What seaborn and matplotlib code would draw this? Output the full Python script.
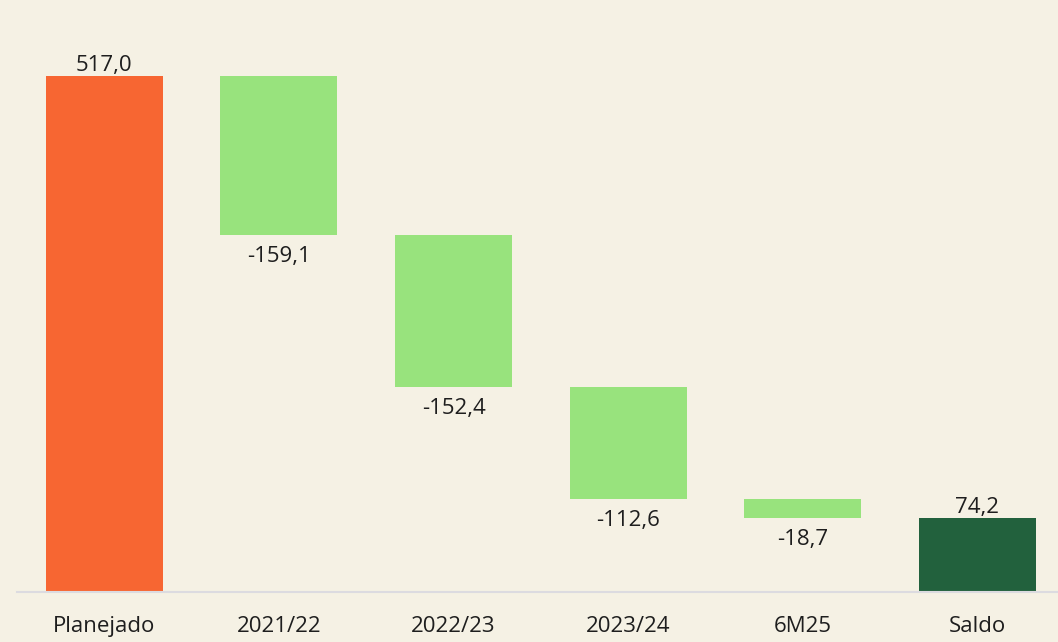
import matplotlib
matplotlib.use("Agg")
import matplotlib.pyplot as plt
import seaborn as sns
import pandas as pd

# Waterfall: planned amount, yearly consumption, remaining balance
categories = ["Planejado", "2021/22", "2022/23", "2023/24", "6M25", "Saldo"]
values = [517.0, -159.1, -152.4, -112.6, -18.7, 74.2]
kinds = ["total", "delta", "delta", "delta", "delta", "total"]

colors = {"Planejado": "#F76632", "Saldo": "#22613D"}
delta_color = "#98E37D"
bg = "#F5F1E4"
text_color = "#1E1E1E"

# bar bottoms and tops
bottoms, tops = [], []
running = 0.0
for v, k in zip(values, kinds):
    if k == "total":
        bottoms.append(0.0)
        tops.append(v)
        running = v
    else:
        new = running + v
        bottoms.append(min(running, new))
        tops.append(max(running, new))
        running = new

df = pd.DataFrame({
    "categoria": categories,
    "altura": [t - b for t, b in zip(tops, bottoms)],
})
palette = [colors.get(c, delta_color) for c in categories]

sns.set_theme(style="white")
plt.rcParams["font.family"] = ["Open Sans", "DejaVu Sans"]

fig = plt.figure(figsize=(10.58, 6.42), dpi=100, facecolor=bg)
ax = fig.add_axes([17 / 1058, 50 / 642, 1 - 17 / 1058, 592 / 642])
ax.set_facecolor(bg)

sns.barplot(data=df, x="categoria", y="altura", hue="categoria",
            palette=palette, legend=False, width=0.67, ax=ax,
            saturation=1, linewidth=0)

for patch, b in zip(ax.patches, bottoms):
    patch.set_y(b)

fs = 16
for i, (v, b, t) in enumerate(zip(values, bottoms, tops)):
    label = f"{v:.1f}".replace(".", ",")
    if v >= 0:
        ax.annotate(label, (i, t), xytext=(0, 0), textcoords="offset points",
                    ha="center", va="bottom", fontsize=fs, color=text_color)
    else:
        ax.annotate(label, (i, b), xytext=(0, -8), textcoords="offset points",
                    ha="center", va="top", fontsize=fs, color=text_color)

ax.set_xlim(-0.5, 5.461)
ax.set_ylim(0, 593)
ax.set_xlabel("")
ax.set_ylabel("")
ax.set_yticks([])
ax.tick_params(axis="x", length=0, pad=17, labelsize=fs, labelcolor=text_color)
for side in ["top", "right", "left"]:
    ax.spines[side].set_visible(False)
ax.spines["bottom"].set_color("#DCDBE0")
ax.spines["bottom"].set_linewidth(1.5)

fig.savefig("out.png", dpi=100, facecolor=bg)
